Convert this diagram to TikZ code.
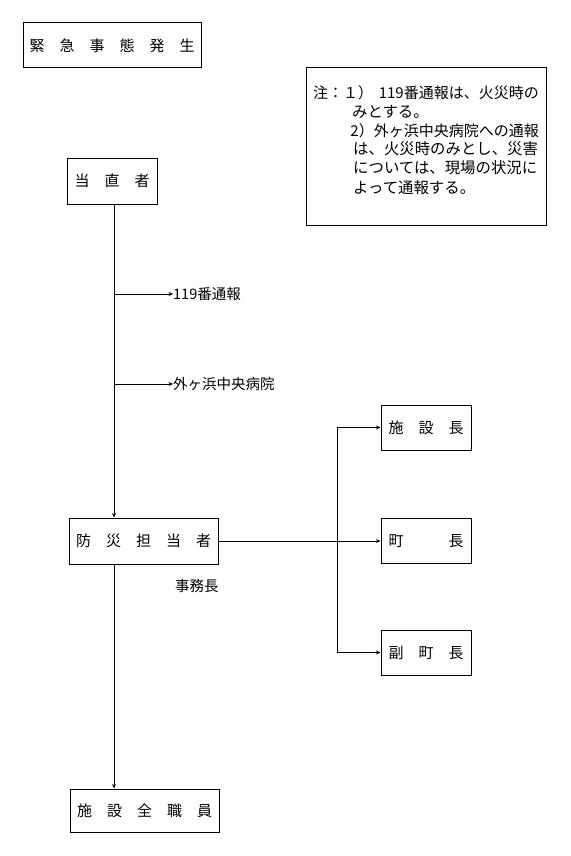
\documentclass[tikz,border=0pt]{standalone}
\usepackage{fontspec}
\setmainfont{Noto Sans CJK JP}
\usetikzlibrary{arrows.meta}
\begin{document}
\begin{tikzpicture}[x=1pt,y=-1pt,
  box/.style={draw, line width=1pt, inner sep=0pt, font=\fontsize{15}{15}\selectfont},
  lbl/.style={inner sep=0pt, anchor=west, font=\fontsize{14.5}{15}\selectfont},
  notetxt/.style={inner sep=0pt, anchor=west, font=\fontsize{15.4}{15.4}\selectfont},
  notetxtb/.style={inner sep=0pt, font=\fontsize{15}{15}\selectfont},
  arr/.style={line width=0.8pt, -{Stealth[length=4.5pt,width=4pt]}}]
\useasboundingbox (0,0) rectangle (570,856);
% boxes
\node[box, minimum width=178pt, minimum height=45pt] (emerg) at (112,45.5) {緊　急　事　態　発　生};
\node[box, minimum width=240pt, minimum height=157pt] (note) at (426,146.5) {};
\node[box, minimum width=90pt, minimum height=46pt] (duty) at (112,181) {当　直　者};
\node[box, minimum width=149pt, minimum height=46pt] (bosai) at (143.5,541) {防　災　担　当　者};
\node[box, minimum width=90pt, minimum height=45pt] (sc) at (426,427.5) {施　設　長};
\node[box, minimum width=90pt, minimum height=45pt] (cho) at (426,541) {町　　　長};
\node[box, minimum width=90pt, minimum height=45pt] (fc) at (426,652.5) {副　町　長};
\node[box, minimum width=149pt, minimum height=43pt] (staff) at (144.5,810.5) {施　設　全　職　員};
% note text
\node[notetxtb, anchor=west] (n1a) at (313,93) {注：１）};
\node[notetxtb, anchor=east] (n1b) at (539,93) {119番通報は、火災時の};
\node[notetxt] (n2) at (352,112) {みとする。};
\node[notetxtb, anchor=east] (n3) at (539,131) {2）外ヶ浜中央病院への通報};
\node[notetxt] (n4) at (353,149) {は、火災時のみとし、災害};
\node[notetxt] (n5) at (353,168) {については、現場の状況に};
\node[notetxt] (n6) at (353,188) {よって通報する。};
% labels
\node[lbl] (l119) at (173,294) {119番通報};
\node[lbl] (lhosp) at (173,384) {外ヶ浜中央病院};
\node[lbl] (ljimu) at (175,586) {事務長};
% connectors
\coordinate (colx) at (114,0);
\coordinate (bx) at (337,0);
\draw[arr] (duty.south -| colx) -- (bosai.north -| colx);
\draw[arr] (l119.west -| colx) -- (l119.west);
\draw[arr] (lhosp.west -| colx) -- (lhosp.west);
\draw[arr] (bosai.south -| colx) -- (staff.north -| colx);
\draw[arr] (bosai.east) -- (cho.west);
\draw[arr] (bx |- bosai.east) |- (sc.west);
\draw[arr] (bx |- bosai.east) |- (fc.west);
\end{tikzpicture}
\end{document}
